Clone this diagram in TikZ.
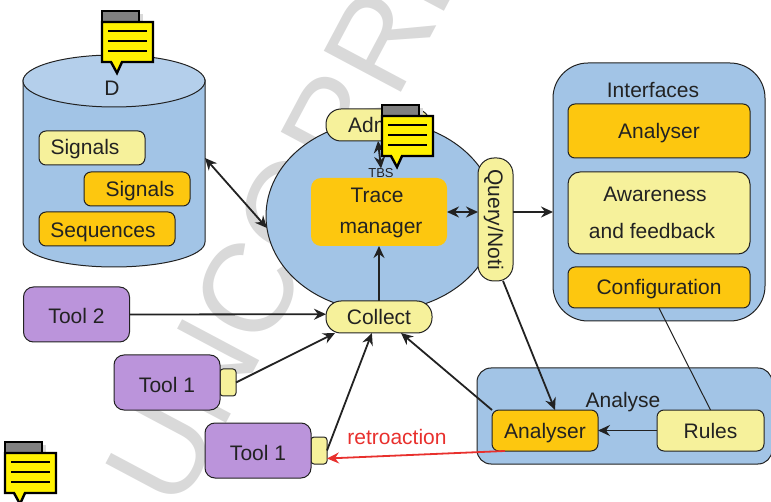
\documentclass[tikz,border=0pt]{standalone}
\usepackage{fontspec}
\setmainfont{Liberation Sans}
\usetikzlibrary{arrows.meta,shapes.geometric}
\definecolor{blueback}{HTML}{A2C4E6}
\definecolor{bluetop}{HTML}{B4CFEB}
\definecolor{orangebox}{HTML}{FDC70F}
\definecolor{palebox}{HTML}{F6F19B}
\definecolor{toolbox}{HTML}{BB94DB}
\definecolor{inkline}{HTML}{222222}
\definecolor{retrored}{HTML}{E8302D}
\definecolor{stamp}{HTML}{D9D9D9}
\tikzset{
  every node/.style={font=\fontsize{21}{25}\selectfont,text=inkline,outer sep=0pt,inner sep=0pt,text height=15pt,text depth=0pt},
  box/.style={draw=inkline,line width=1pt,rounded corners=7pt},
  orangerect/.style={box,fill=orangebox},
  palerect/.style={box,fill=palebox},
  toolrect/.style={box,fill=toolbox,minimum width=106pt,minimum height=55pt,rounded corners=10pt,text height=19pt},
  portrect/.style={box,fill=palebox,minimum width=16pt,minimum height=27pt,rounded corners=3pt},
  flow/.style={draw=inkline,line width=1.8pt,-{Stealth[length=12pt,width=11pt,inset=4pt]}},
  twoway/.style={flow,{Stealth[length=12pt,width=11pt,inset=4pt]}-{Stealth[length=12pt,width=11pt,inset=4pt]}},
  notemark/.pic={
    \fill[black!15] (4,3) rectangle (41,12);
    \draw[line width=2.4pt,fill=black!50] (0,0) rectangle (37,11);
    \draw[line width=2.4pt,fill=yellow,line join=miter] (0,11) -- (51,11) -- (51,51) -- (20,51) -- (15,62) -- (9,51) -- (0,51) -- cycle;
    \foreach \y in {20,30,40} \draw[line width=2.2pt] (6,\y) -- (45,\y);
  }
}
\begin{document}
\begin{tikzpicture}[x=1pt,y=-1pt]
\useasboundingbox (0,0) rectangle (771,502);
% stamp behind everything
\node[anchor=base west,rotate=62,font=\fontsize{127}{127}\selectfont,text=stamp,text height=91pt] (stampword) at (178,513) {UNCORRE};
% store
\draw[draw=inkline,line width=1pt,fill=blueback] (23,80) -- (23,242) arc[start angle=180,end angle=0,x radius=91,y radius=25] -- (205,80) -- cycle;
\draw[draw=inkline,line width=1pt,fill=bluetop] (114,81) ellipse[x radius=91,y radius=26];
\coordinate (storeside) at (205,158);
\node (dlabel) at (112,88) {D};
\node[palerect,minimum width=106pt,minimum height=34pt] (sigA) at (92,148) {};
\node (sigAtext) at (85,147) {Signals};
\node[orangerect,minimum width=106pt,minimum height=34pt] (sigB) at (137,189) {};
\node (sigBtext) at (140,189) {Signals};
\node[orangerect,minimum width=136pt,minimum height=34pt] (seq) at (107,229) {};
\node (seqtext) at (103,230) {Sequences};
% manager
\node[ellipse,fill=blueback,draw=inkline,line width=1pt,minimum width=230pt,minimum height=190pt] (core) at (381,216) {};
\node[palerect,minimum width=104pt,minimum height=32pt,rounded corners=15pt] (admin) at (378,125) {Admin};
\node[fill=orangebox,rounded corners=10pt,minimum width=136pt,minimum height=68pt] (trace) at (379,212) {};
\node (tracetextA) at (377,195) {Trace};
\node (tracetextB) at (381,226) {manager};
\node[font=\fontsize{13}{15}\selectfont,text height=9pt] (tbs) at (381,173) {TBS};
\node[palerect,rotate=-90,minimum width=123pt,minimum height=35pt,rounded corners=16pt] (query) at (495.5,219.5) {Query/Noti};
\node[palerect,minimum width=106pt,minimum height=32pt,rounded corners=15pt] (collect) at (379,317) {Collect};
% interfaces
\node[draw=inkline,line width=1pt,fill=blueback,rounded corners=35pt,minimum width=212pt,minimum height=258pt] (interfaces) at (659,192) {};
\node (interfacestext) at (653,90) {Interfaces};
\node[orangerect,minimum width=182pt,minimum height=54pt] (analyserA) at (659,131) {Analyser};
\node[palerect,minimum width=182pt,minimum height=82pt,rounded corners=12pt] (aware) at (659,213) {};
\node (awaretextA) at (655,194) {Awareness};
\node (awaretextB) at (652,231) {and feedback};
\node[orangerect,minimum width=182pt,minimum height=41pt] (config) at (659,287.5) {Configuration};
% analyse
\node[draw=inkline,line width=1pt,fill=blueback,rounded corners=14pt,minimum width=295pt,minimum height=96pt] (analyse) at (624.5,416) {};
\node (analysetext) at (623,400) {Analyse};
\node[orangerect,minimum width=106pt,minimum height=41pt] (analyserB) at (545,430.5) {Analyser};
\node[palerect,minimum width=107pt,minimum height=41pt] (rules) at (710.5,430.5) {Rules};
% tools
\node[toolrect] (tooltwo) at (76.5,314.5) {Tool 2};
\node[portrect] (portA) at (228,382.5) {};
\node[toolrect] (toolA) at (167,382.5) {Tool 1};
\node[portrect] (portB) at (319,450.5) {};
\node[toolrect] (toolB) at (258,450.5) {Tool 1};
% connectors
\draw[twoway] (storeside) -- (core.186);
\draw[twoway] (admin.south) -- (tbs.north);
\draw[twoway] (trace.east) -- (query.south |- trace.east);
\draw[flow] (query.north |- trace.east) -- (interfaces.west |- trace.east);
\draw[flow] (collect.north) -- (trace.south);
\draw[flow] (tooltwo.east) -- (collect.177);
\draw[flow] (portA.east) -- (collect.-160);
\draw[flow] (portB.east) -- (collect.-114);
\draw[flow] (analyserB.north west) -- (collect.-36);
\draw[flow] (query.7) -- (analyserB.64);
\draw[flow] (rules.west) -- (analyserB.east);
\draw[draw=inkline,line width=1pt] (config.south) -- (rules.north);
\draw[flow,draw=retrored,-{Stealth[length=12pt,width=11pt,inset=4pt,color=retrored]}] (analyserB.-153) -- (portB.-45);
\node[text=retrored] (retrotext) at (397,437) {retroaction};
% note marks
\pic at (102,11) {notemark};
\pic at (382,105) {notemark};
\pic at (5,442) {notemark};
\end{tikzpicture}
\end{document}
